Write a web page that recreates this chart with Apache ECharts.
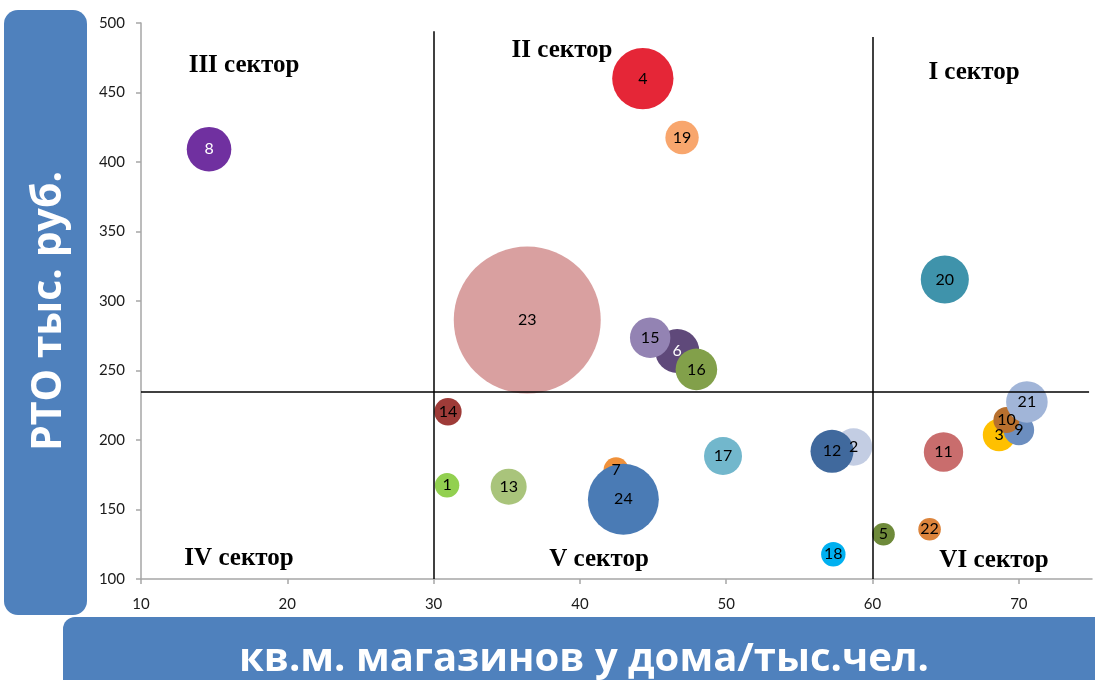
<!DOCTYPE html>
<html>
<head>
<meta charset="utf-8">
<script src="https://cdn.jsdelivr.net/npm/echarts@6/dist/echarts.min.js"></script>
<style>
html, body { margin: 0; padding: 0; background: #fff; }
#chart { width: 1095px; height: 680px; }
</style>
</head>
<body>
<div id="chart"></div>
<script>
// номера объектов
var ids = [1, 2, 3, 4, 5, 6, 7, 8, 9, 10, 11, 12, 13, 14, 15, 16, 17, 18, 19, 20, 21, 22, 23, 24];
// кв.м. магазинов у дома / тыс.чел.
var xVals = [30.92, 58.7, 68.65, 44.3, 60.75, 46.65, 42.47, 14.65, 70.0, 69.15, 64.85, 57.23,
             35.13, 30.98, 44.8, 47.96, 49.78, 57.32, 46.98, 64.94, 70.55, 63.9, 36.4, 42.97];
// РТО тыс. руб.
var yVals = [167.4, 195, 203.6, 460, 132.2, 264, 178.5, 409.2, 207.2, 214.4, 191.4, 191.9,
             166.4, 220.3, 273.6, 250.8, 188.5, 117.8, 417.6, 315.5, 227.4, 135.8, 286.3, 157.4];
// размер пузырька
var sizes = [2.76, 6.47, 4.92, 17.4, 2.36, 8.96, 2.9, 9.2, 4.33, 3.13, 7.18, 8.56,
             6.0, 3.47, 7.55, 8.0, 6.68, 2.76, 5.16, 10.7, 8.0, 2.36, 100, 23.3];

var colors = ['#92d050', '#c3cde3', '#ffc000', '#e52637', '#6e8a3a', '#5f497a', '#f0913a', '#7030a0',
              '#6c8ebf', '#b8702e', '#c96d6d', '#40699d', '#a9c47b', '#9e3b38', '#9383b3', '#82a04a',
              '#72b7cc', '#00b0f0', '#f8a66d', '#3f93ab', '#a1b5d8', '#dc843c', '#d9a0a0', '#4a7bb5'];
var whiteLabels = [6, 8];

var chart = echarts.init(document.getElementById('chart'));

var points = ids.map(function (id, i) {
    return {
        value: [xVals[i], yVals[i], sizes[i], id],
        itemStyle: { color: colors[i], opacity: 1 },
        label: { color: whiteLabels.indexOf(id) >= 0 ? '#fff' : '#000' }
    };
});

var sectorText = function (txt, x, y) {
    return {
        type: 'text', x: x, y: y, silent: true,
        style: {
            text: txt, fill: '#000', align: 'center', verticalAlign: 'middle',
            font: 'bold 25px "Liberation Serif", "Times New Roman", serif'
        }
    };
};

var option = {
    backgroundColor: '#fff',
    animation: false,
    grid: { left: 141, top: 23, width: 951, height: 556, outerBoundsMode: 'none' },
    xAxis: {
        type: 'value', min: 10, max: 75, interval: 10,
        axisLine: { lineStyle: { color: '#a6a6a6', width: 1.5 } },
        axisTick: { show: true, length: 5, lineStyle: { color: '#a6a6a6', width: 1.5 } },
        axisLabel: { showMaxLabel: false, margin: 18, fontSize: 15, fontFamily: 'Lato', color: '#1a1a1a' },
        splitLine: { show: false }
    },
    yAxis: {
        type: 'value', min: 100, max: 500, interval: 50,
        axisLine: { show: true, lineStyle: { color: '#a6a6a6', width: 1.5 } },
        axisTick: { show: true, length: 5, lineStyle: { color: '#a6a6a6', width: 1.5 } },
        axisLabel: { margin: 16, fontSize: 15, fontFamily: 'Lato', color: '#1a1a1a' },
        splitLine: { show: false }
    },
    series: [
        {
            type: 'scatter', z: 1, data: [], silent: true,
            markLine: {
                silent: true, symbol: 'none', animation: false,
                label: { show: false },
                lineStyle: { color: '#000', width: 1.5, type: 'solid' },
                data: [
                    [{ coord: [30, 494] }, { coord: [30, 100] }],
                    [{ coord: [60, 490] }, { coord: [60, 100] }],
                    [{ coord: [10, 235] }, { coord: [74.8, 235] }]
                ]
            }
        },
        {
            type: 'scatter', z: 2,
            data: points,
            symbolSize: function (val) { return Math.sqrt(val[2]) * 14.7; },
            label: {
                show: true, position: 'inside',
                fontFamily: 'Lato', fontSize: 16,
                formatter: function (p) { return p.value[3]; }
            },
            emphasis: { disabled: true }
        }
    ],
    graphic: [
        {
            type: 'rect', silent: true, z: -1,
            shape: { x: 4, y: 10, width: 83, height: 605, r: 14 },
            style: { fill: '#4f81bd' }
        },
        {
            type: 'rect', silent: true, z: -1,
            shape: { x: 63, y: 617, width: 1045, height: 80, r: 12 },
            style: { fill: '#4f81bd' }
        },
        {
            type: 'text', x: 49, y: 311, rotation: Math.PI / 2, silent: true,
            style: {
                text: 'РТО тыс. руб.', fill: '#fff', align: 'center', verticalAlign: 'middle',
                font: 'bold 41px "Open Sans", sans-serif'
            }
        },
        {
            type: 'text', x: 584, y: 660, silent: true,
            style: {
                text: 'кв.м. магазинов у дома/тыс.чел.', fill: '#fff', align: 'center', verticalAlign: 'middle',
                font: 'bold 40px "Open Sans", sans-serif'
            }
        },
        sectorText('III сектор', 244, 66),
        sectorText('II сектор', 562, 51),
        sectorText('I сектор', 974, 73),
        sectorText('IV сектор', 239, 559),
        sectorText('V сектор', 599, 560),
        sectorText('VI сектор', 994, 561)
    ]
};

chart.setOption(option);
</script>
</body>
</html>
